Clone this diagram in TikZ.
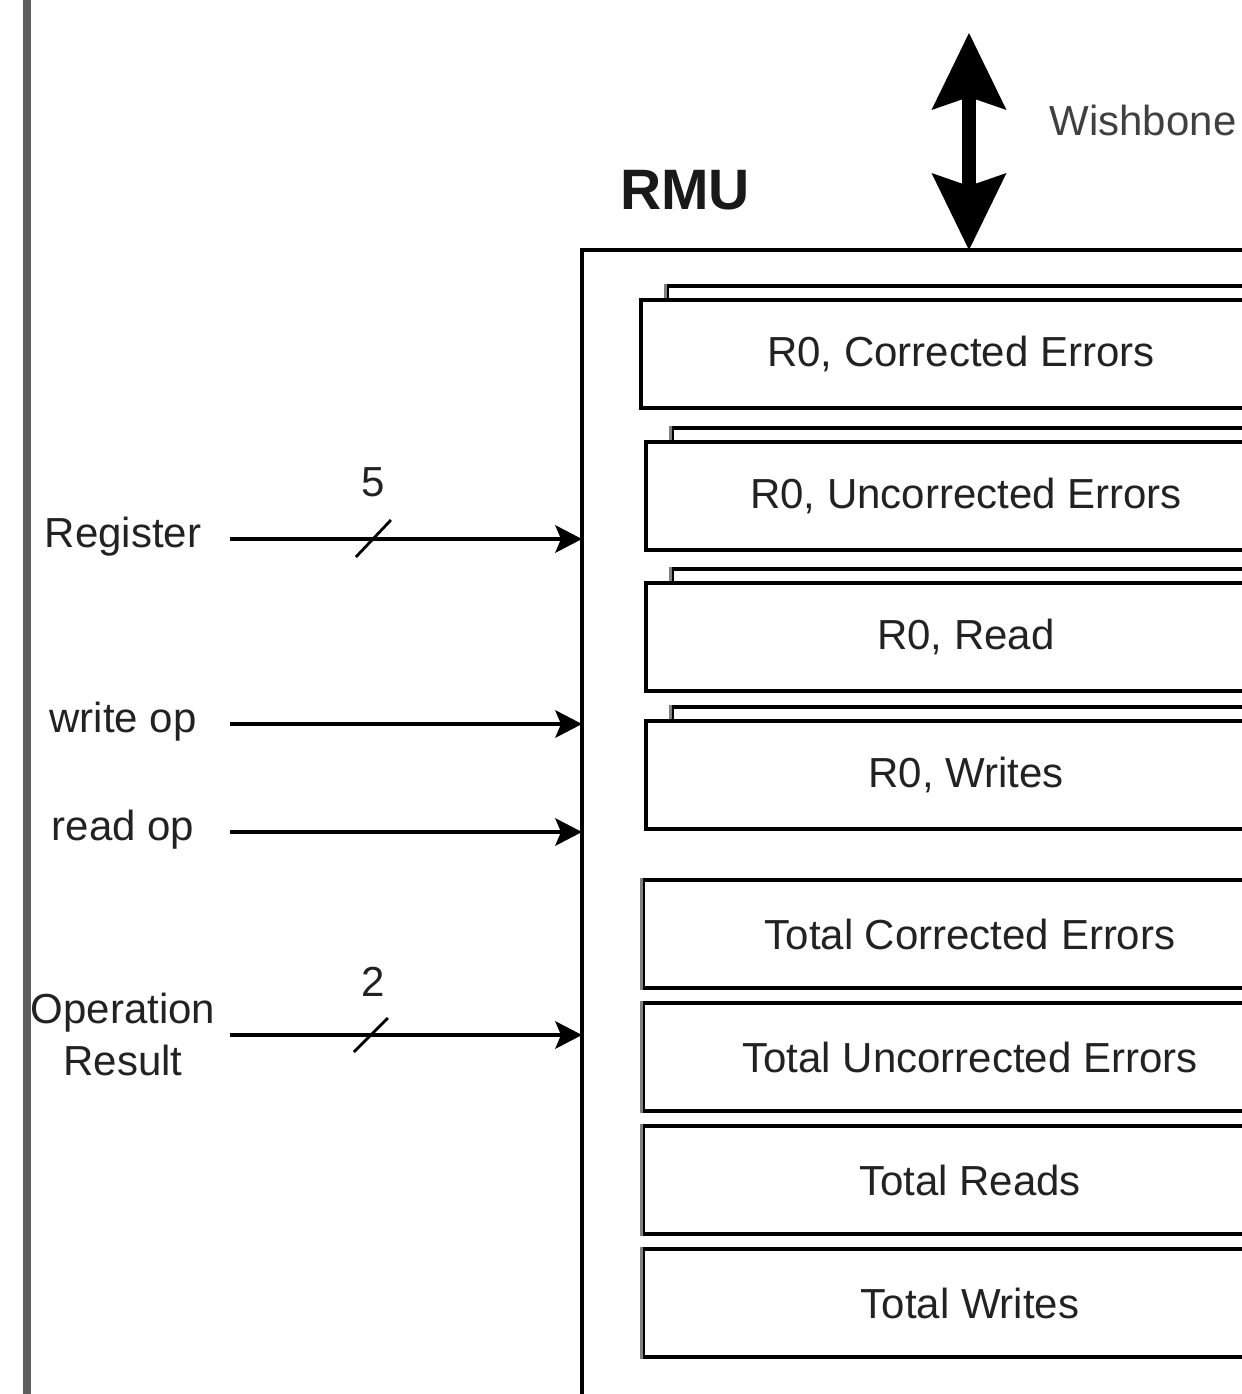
\documentclass[tikz,border=0pt]{standalone}
\usepackage{fontspec}
\setmainfont{Liberation Sans}
\usetikzlibrary{arrows.meta,calc}
\definecolor{txt}{HTML}{222222}
\definecolor{rail}{HTML}{5E5E5E}
\tikzset{
  lbl/.style={text=txt,font=\fontsize{21}{26}\selectfont,inner sep=0pt,align=center},
  regbox/.style={draw=black,line width=1.6pt,fill=white,minimum width=320pt,minimum height=54pt,inner sep=0pt,
                 text=txt,font=\fontsize{21}{26}\selectfont},
  backbox/.style={draw=black,line width=1.6pt,fill=white,minimum width=320pt,minimum height=54pt,inner sep=0pt},
  totbox/.style={draw=black,line width=1.6pt,fill=white,minimum width=327pt,minimum height=54pt,inner sep=0pt,
                 text=txt,font=\fontsize{21}{26}\selectfont},
  sig/.style={draw=black,line width=1.6pt,-{Stealth[length=13.5pt,width=14pt,inset=3pt,line width=0pt]}},
  slash/.style={draw=black,line width=1.4pt},
  bus/.style={draw=black,line width=7pt,{Stealth[length=38.5pt,width=37.5pt,inset=6.5pt,line width=0pt]}-{Stealth[length=38.5pt,width=37.5pt,inset=6.5pt,line width=0pt]}}
}
\begin{document}
\begin{tikzpicture}[x=0.5pt,y=-0.5pt]
\useasboundingbox (0,0) rectangle (1242,1394);
\clip (0,0) rectangle (1242,1394);
\fill[white] (0,0) rectangle (1242,1394);

% left rail
\draw[rail,line width=4pt] (27,-5) -- (27,1400);

% RMU outer box
\coordinate (rmutop) at (969,250);
\draw[black,line width=1.6pt] (582,1420) -- (582,250) -- (1260,250);
\node[lbl,font=\fontsize{28.5}{32}\selectfont\bfseries,text=black!90] (rmu) at (685,190) {RMU};

% Wishbone
\coordinate (wbtop) at (969,33);
\draw[bus] (wbtop) -- (rmutop);
\node[lbl,text=black!75] (wb) at (1143,120) {Wishbone};

% per-register counters (stacked)
\node[backbox] (b1b) at (987,340) {};
\node[regbox] (b1) at (961,354) {R0, Corrected Errors};
\node[backbox] (b2b) at (992,482) {};
\node[regbox] (b2) at (966,496) {R0, Uncorrected Errors};
\node[backbox] (b3b) at (992,623) {};
\node[regbox] (b3) at (966,637) {R0, Read};
\node[backbox] (b4b) at (992,761) {};
\node[regbox] (b4) at (966,775) {R0, Writes};
\foreach \b in {b1b,b2b,b3b,b4b}{
  \draw[gray,line width=1.6pt] (\b.north west) -- ++(0,14);
}

% totals
\node[totbox] (t1) at (970,934) {Total Corrected Errors};
\node[totbox] (t2) at (970,1057) {Total Uncorrected Errors};
\node[totbox] (t3) at (970,1180) {Total Reads};
\node[totbox] (t4) at (970,1303) {Total Writes};
\foreach \b in {t1,t2,t3,t4}{
  \draw[gray,line width=1.6pt] (\b.north west) -- (\b.south west);
}

% input labels
\node[lbl] (reg) at (123,537) {Register};
\node[lbl] (wop) at (123,722) {write op};
\node[lbl] (rop) at (123,830) {read op};
\node[lbl,text depth=0pt] (opr) at (123,1034) {Operation\\Result};

% ports
\coordinate (regs) at (230,539);  \coordinate (rege) at (582,539);
\coordinate (wops) at (230,724);  \coordinate (wope) at (582,724);
\coordinate (rops) at (230,832);  \coordinate (rope) at (582,832);
\coordinate (oprs) at (230,1035); \coordinate (opre) at (582,1035);

\draw[sig] (regs) -- (rege) coordinate[pos=0.406] (regmid);
\draw[sig] (wops) -- (wope);
\draw[sig] (rops) -- (rope);
\draw[sig] (oprs) -- (opre) coordinate[pos=0.40] (oprmid);

\draw[slash] ($(regmid)+(-17,18)$) -- ($(regmid)+(18,-19)$);
\draw[slash] ($(oprmid)+(-17,17)$) -- ($(oprmid)+(17,-17)$);
\node[lbl] (n5) at (373,482) {5};
\node[lbl] (n2) at (373,982) {2};
\end{tikzpicture}
\end{document}
